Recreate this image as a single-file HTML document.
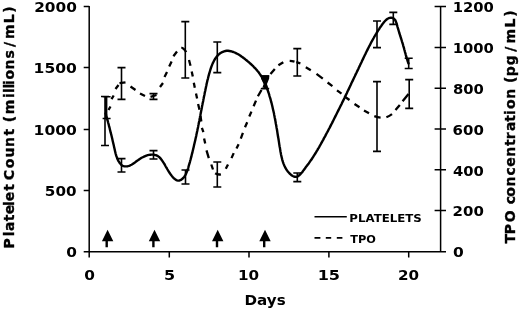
<!DOCTYPE html>
<html lang="en"><head><meta charset="utf-8"><title>Platelet count and TPO concentration</title>
<style>
html,body{margin:0;padding:0;background:#fff}
body{width:520px;height:310px;overflow:hidden}
svg{display:block}
text.v{stroke:#000;stroke-width:.35px}
text{font-family:"DejaVu Sans","Liberation Sans",sans-serif;font-weight:bold;fill:#000}
.ax{stroke:#000;stroke-width:1.5;fill:none}
.eb{stroke:#000;stroke-width:1.6;fill:none}
.s1{stroke:#000;stroke-width:2.4;fill:none;stroke-linecap:round;stroke-linejoin:round}
.s2{stroke:#000;stroke-width:2.3;fill:none}
</style></head><body>
<svg width="520" height="310" viewBox="0 0 520 310">
<rect width="520" height="310" fill="#fff"/>
<path class="ax" d="M89.2 6 V257.4 M83.7 251.7 H446 M83.7 6.6 H89.2 M83.7 67.6 H89.2 M83.7 129.4 H89.2 M83.7 190.4 H89.2 M169.3 251.7 V257.4 M249.0 251.7 V257.4 M328.9 251.7 V257.4 M408.7 251.7 V257.4 M440.6 6 V252.4 M434.6 6.6 H446 M434.6 47.4 H446 M434.6 88.2 H446 M434.6 129.0 H446 M434.6 169.8 H446 M434.6 210.6 H446"/>
<path class="eb" d="M105.0 96.5V145.5M101.0 96.5h8M101.0 145.5h8M106.6 96.7V118.5M102.6 96.7h8M102.6 118.5h8M121.5 158.6V172.0M117.5 158.6h8M117.5 172.0h8M121.5 67.6V99.4M117.5 67.6h8M117.5 99.4h8M153.5 150.6V159.0M149.5 150.6h8M149.5 159.0h8M153.5 93.6V99.4M149.5 93.6h8M149.5 99.4h8M185.5 170.0V184.0M181.5 170.0h8M181.5 184.0h8M185.3 21.6V78.0M181.3 21.6h8M181.3 78.0h8M217.3 42.0V72.6M213.3 42.0h8M213.3 72.6h8M217.3 162.0V187.0M213.3 162.0h8M213.3 187.0h8M265.2 76.0V88.5M261.2 76.0h8M261.2 88.5h8M264.8 76.3V88.8M260.8 76.3h8M260.8 88.8h8M297.3 173.0V181.6M293.3 173.0h8M293.3 181.6h8M297.3 48.6V76.0M293.3 48.6h8M293.3 76.0h8M377.0 21.0V47.6M373.0 21.0h8M373.0 47.6h8M377.0 81.6V151.4M373.0 81.6h8M373.0 151.4h8M393.3 12.4V24.4M389.3 12.4h8M389.3 24.4h8M408.7 58.2V68.5M404.7 58.2h8M404.7 68.5h8M409.2 79.6V108.4M405.2 79.6h8M405.2 108.4h8"/>
<path class="s2" d="M108.5 110L110.5 106.5M111.5 99.2L113.7 95.5M115.5 89L118.5 85M119.5 83.2L125.5 82.3M130.5 86.5L135.5 90M140 93.5L145 96M150.5 96.8L156.5 95M160 87L163 83M164.5 77.1L167 72.1M169.2 66.5L171.6 61.5M173.4 56.2L177 51.5M181.3 47.9Q183.5 47.6 186.2 52.2M189 60L190.5 65.7M191.7 71.4L192.8 76.4M193.8 82.8L194.8 87.8M196 93.5L197.1 98.5M198.1 104.1L199.5 109.8M200.5 116L201.3 121.5M201.9 127.9L203.4 132.2M204.1 138.6L205.2 143.6M206.5 150.3L208.8 158.1M211.3 164.5L213 169.5M215.2 173.3Q217.6 175.0 220.9 174.3M225.8 168.8L228 164.5M231.5 158.1L233.7 153.1M236.5 148.5L238.6 144.3M240.8 138.6L242.9 132.9M245 127.2L247.2 122.2M249.3 116.5L251.4 111.6M253.6 106.3L256 100.6M257.9 96.3L261.5 90M270.5 73.9L274.8 68.9M278.4 65.3L283.3 62.2M289.7 60.8Q292 60.9 294.5 61.6M296.3 62.1L300.4 63.3M305.8 67.3L310.8 70.3M316.5 73.9L322.8 78.7M327.6 82.5L332.4 86.1M337 90.3L341.5 93.7M344.5 96.5L349.5 100M354.5 104L359.5 107.3M364 110.5L369 113.3M374.3 116.2Q377.5 117.4 380.6 117.6M386.4 117.2Q389.5 116 392 114.1M395.5 109.9L399.8 104.9M402.6 101.3L408.5 94"/>
<path class="s1" d="M105.6 113.4 L106.0 114.7 L106.3 116.1 L106.7 117.4 L107.1 118.7 L107.4 120.0 L107.8 121.2 L108.1 122.5 L108.5 123.8 L108.8 125.1 L109.1 126.4 L109.5 127.6 L109.8 128.9 L110.1 130.2 L110.4 131.4 L110.7 132.7 L111.1 134.0 L111.4 135.3 L111.7 136.5 L112.0 137.8 L112.3 139.1 L112.6 140.4 L112.9 141.7 L113.2 143.0 L113.5 144.3 L113.8 145.6 L114.1 146.9 L114.4 148.2 L114.7 149.6 L115.0 150.9 L115.3 152.2 L115.6 153.5 L116.0 154.9 L116.4 156.2 L116.9 157.4 L117.3 158.7 L117.9 159.9 L118.5 161.1 L119.2 162.2 L119.9 163.3 L120.8 164.3 L121.7 165.2 L122.8 165.8 L123.9 166.2 L125.2 166.4 L126.5 166.4 L127.8 166.2 L129.1 165.8 L130.3 165.3 L131.5 164.7 L132.7 164.0 L133.8 163.2 L135.0 162.4 L136.1 161.5 L137.2 160.7 L138.3 160.0 L139.4 159.2 L140.5 158.5 L141.6 157.8 L142.8 157.2 L144.0 156.6 L145.2 156.1 L146.4 155.6 L147.7 155.2 L149.0 154.9 L150.4 154.7 L151.7 154.6 L153.0 154.6 L154.3 154.8 L155.6 155.1 L156.8 155.5 L157.9 156.1 L159.0 156.9 L160.0 157.9 L160.9 158.9 L161.7 160.0 L162.5 161.1 L163.3 162.3 L164.0 163.4 L164.7 164.5 L165.3 165.7 L165.9 166.8 L166.6 167.9 L167.2 169.0 L167.9 170.2 L168.6 171.3 L169.3 172.4 L170.0 173.6 L170.9 174.7 L171.8 175.9 L172.7 177.0 L173.7 178.1 L174.8 179.0 L175.9 179.8 L177.0 180.3 L178.1 180.6 L179.2 180.6 L180.3 180.2 L181.4 179.6 L182.4 178.8 L183.3 177.9 L184.1 176.9 L184.8 175.9 L185.5 174.8 L186.1 173.6 L186.6 172.4 L187.1 171.2 L187.5 169.9 L188.0 168.6 L188.4 167.3 L188.7 166.0 L189.1 164.7 L189.5 163.4 L189.9 162.1 L190.2 160.8 L190.6 159.5 L190.9 158.2 L191.3 156.9 L191.6 155.5 L191.9 154.2 L192.3 152.9 L192.6 151.6 L192.9 150.3 L193.2 149.0 L193.5 147.7 L193.8 146.4 L194.1 145.1 L194.4 143.8 L194.7 142.5 L195.0 141.2 L195.3 139.9 L195.6 138.6 L195.9 137.3 L196.2 136.0 L196.4 134.7 L196.7 133.4 L197.0 132.1 L197.3 130.8 L197.5 129.5 L197.8 128.2 L198.1 126.9 L198.3 125.6 L198.6 124.3 L198.8 123.0 L199.1 121.7 L199.4 120.4 L199.6 119.1 L199.9 117.8 L200.1 116.5 L200.4 115.2 L200.6 113.9 L200.9 112.6 L201.1 111.3 L201.4 110.0 L201.6 108.7 L201.9 107.4 L202.1 106.1 L202.4 104.8 L202.6 103.5 L202.9 102.2 L203.2 100.9 L203.4 99.6 L203.7 98.3 L203.9 97.0 L204.2 95.7 L204.5 94.4 L204.7 93.1 L205.0 91.8 L205.3 90.5 L205.5 89.2 L205.8 87.9 L206.1 86.6 L206.4 85.3 L206.6 84.0 L206.9 82.7 L207.2 81.4 L207.5 80.1 L207.9 78.8 L208.2 77.5 L208.5 76.2 L208.9 74.9 L209.2 73.6 L209.6 72.3 L210.0 71.0 L210.4 69.7 L210.8 68.4 L211.2 67.2 L211.7 65.9 L212.2 64.6 L212.7 63.4 L213.3 62.2 L213.9 61.0 L214.5 59.9 L215.2 58.7 L215.9 57.7 L216.7 56.6 L217.6 55.6 L218.5 54.7 L219.5 53.8 L220.6 53.0 L221.7 52.4 L222.9 51.8 L224.1 51.3 L225.4 51.0 L226.7 50.8 L228.0 50.8 L229.4 51.0 L230.8 51.2 L232.1 51.6 L233.4 52.0 L234.7 52.5 L235.9 53.1 L237.1 53.7 L238.2 54.3 L239.4 55.0 L240.5 55.7 L241.5 56.5 L242.6 57.2 L243.6 58.0 L244.7 58.8 L245.7 59.7 L246.8 60.5 L247.8 61.4 L248.8 62.2 L249.8 63.1 L250.8 64.0 L251.8 64.9 L252.8 65.8 L253.7 66.8 L254.7 67.8 L255.6 68.7 L256.5 69.7 L257.3 70.8 L258.2 71.8 L259.0 72.8 L259.7 73.9 L260.5 75.0 L261.2 76.1 L261.9 77.2 L262.6 78.4 L263.2 79.6 L263.8 80.7 L264.4 81.9 L264.9 83.1 L265.4 84.3 L266.0 85.6 L266.5 86.8 L266.9 88.0 L267.4 89.3 L267.8 90.5 L268.2 91.8 L268.7 93.1 L269.1 94.3 L269.4 95.6 L269.8 96.9 L270.2 98.1 L270.6 99.4 L270.9 100.7 L271.2 102.0 L271.6 103.2 L271.9 104.5 L272.2 105.8 L272.5 107.1 L272.8 108.4 L273.1 109.7 L273.4 111.0 L273.7 112.3 L274.0 113.6 L274.2 114.9 L274.5 116.2 L274.7 117.5 L275.0 118.8 L275.2 120.1 L275.5 121.4 L275.7 122.7 L275.9 124.0 L276.2 125.3 L276.4 126.6 L276.6 127.9 L276.9 129.2 L277.1 130.5 L277.3 131.9 L277.5 133.2 L277.7 134.5 L277.9 135.8 L278.1 137.1 L278.4 138.5 L278.6 139.8 L278.8 141.1 L279.0 142.4 L279.2 143.8 L279.4 145.1 L279.6 146.4 L279.9 147.7 L280.1 149.1 L280.3 150.4 L280.5 151.7 L280.8 153.1 L281.0 154.4 L281.3 155.7 L281.6 157.0 L281.9 158.3 L282.2 159.6 L282.6 160.9 L283.0 162.2 L283.4 163.4 L283.9 164.6 L284.4 165.8 L285.0 167.0 L285.6 168.2 L286.3 169.3 L287.0 170.4 L287.8 171.5 L288.7 172.5 L289.6 173.5 L290.6 174.4 L291.6 175.3 L292.7 176.0 L293.8 176.5 L295.0 176.8 L296.1 176.9 L297.1 176.6 L298.2 176.1 L299.2 175.3 L300.2 174.4 L301.2 173.3 L302.2 172.2 L303.1 170.9 L304.0 169.7 L304.9 168.5 L305.7 167.3 L306.5 166.3 L307.3 165.2 L308.1 164.2 L308.9 163.2 L309.6 162.1 L310.3 161.1 L311.1 160.1 L311.8 159.0 L312.5 157.9 L313.2 156.8 L313.9 155.7 L314.6 154.6 L315.3 153.5 L316.0 152.4 L316.7 151.2 L317.4 150.1 L318.0 148.9 L318.7 147.8 L319.4 146.6 L320.0 145.5 L320.7 144.3 L321.3 143.1 L322.0 142.0 L322.6 140.8 L323.3 139.6 L323.9 138.4 L324.5 137.3 L325.2 136.1 L325.8 134.9 L326.4 133.7 L327.1 132.5 L327.7 131.4 L328.3 130.2 L328.9 129.0 L329.6 127.8 L330.2 126.6 L330.8 125.4 L331.4 124.2 L332.0 123.1 L332.6 121.9 L333.2 120.7 L333.8 119.5 L334.4 118.3 L335.0 117.1 L335.6 115.9 L336.2 114.7 L336.8 113.5 L337.4 112.3 L338.0 111.1 L338.6 109.9 L339.2 108.7 L339.8 107.5 L340.4 106.3 L341.0 105.1 L341.6 104.0 L342.1 102.8 L342.7 101.6 L343.3 100.4 L343.9 99.2 L344.5 98.0 L345.0 96.8 L345.6 95.6 L346.2 94.4 L346.8 93.2 L347.3 92.0 L347.9 90.8 L348.5 89.6 L349.1 88.4 L349.6 87.2 L350.2 85.9 L350.8 84.7 L351.3 83.5 L351.9 82.3 L352.5 81.1 L353.1 79.9 L353.6 78.7 L354.2 77.5 L354.8 76.3 L355.3 75.1 L355.9 73.9 L356.5 72.8 L357.0 71.6 L357.6 70.4 L358.2 69.2 L358.7 68.0 L359.3 66.8 L359.9 65.6 L360.4 64.4 L361.0 63.2 L361.6 62.0 L362.1 60.8 L362.7 59.6 L363.3 58.4 L363.8 57.2 L364.4 56.0 L365.0 54.8 L365.6 53.6 L366.1 52.5 L366.7 51.3 L367.3 50.1 L367.9 48.9 L368.5 47.7 L369.1 46.5 L369.7 45.4 L370.3 44.2 L370.9 43.0 L371.5 41.8 L372.2 40.7 L372.8 39.5 L373.5 38.3 L374.1 37.2 L374.8 36.0 L375.5 34.8 L376.2 33.7 L376.9 32.5 L377.6 31.4 L378.3 30.2 L379.1 29.1 L379.8 27.9 L380.6 26.8 L381.4 25.7 L382.2 24.5 L383.0 23.4 L383.9 22.3 L384.8 21.3 L385.7 20.3 L386.6 19.5 L387.6 18.8 L388.7 18.2 L389.8 17.9 L391.0 17.7 L392.2 17.9 L393.3 18.3 L394.2 19.0 L395.1 19.9 L395.7 21.1 L396.2 22.4 L396.7 23.7 L397.1 25.2 L397.4 26.5 L397.8 27.9 L398.2 29.2 L398.6 30.5 L399.0 31.8 L399.3 33.0 L399.7 34.2 L400.1 35.5 L400.5 36.7 L400.9 38.0 L401.3 39.2 L401.7 40.5 L402.1 41.8 L402.5 43.0 L402.9 44.3 L403.2 45.6 L403.6 46.9 L404.0 48.2 L404.3 49.5 L404.7 50.8 L405.0 52.1 L405.4 53.3 L405.7 54.6 L406.1 55.9 L406.4 57.2 L406.8 58.4 L407.2 59.7 L407.6 61.0 L408.0 62.2 L408.5 63.5"/>
<path d="M261 75.2H269.2V78.4L267 84 267.8 87.8H262.4L263.6 84 261 78.4Z" fill="#000"/>
<path d="M107.6 229.8L113.3 241.2H107.9V247.3H105.5V241.2H101.9Z" fill="#000"/>
<path d="M154.5 229.8L160.2 241.2H154.6V247.3H152.2V241.2H148.8Z" fill="#000"/>
<path d="M217.7 229.8L223.4 241.2H218.2V247.3H215.8V241.2H212.0Z" fill="#000"/>
<path d="M265.0 229.8L270.7 241.2H265.4V247.3H263.0V241.2H259.3Z" fill="#000"/>
<path d="M314.5 216.8H346.8" stroke="#000" stroke-width="1.6"/>
<path d="M314.5 237.8H320.4M325.8 237.8H331.2M336.8 237.8H342.4" stroke="#000" stroke-width="1.8"/>
<text transform="translate(34.15 12.40) scale(1.1183 1)" font-size="13.73">2000</text>
<text transform="translate(33.55 73.40) scale(1.1342 1)" font-size="13.73">1500</text>
<text transform="translate(33.55 135.20) scale(1.1342 1)" font-size="13.73">1000</text>
<text transform="translate(44.86 196.20) scale(1.1061 1)" font-size="13.73">500</text>
<text transform="translate(66.23 257.20) scale(1.1165 1)" font-size="13.73">0</text>
<text transform="translate(452.65 12.40) scale(1.0782 1)" font-size="13.73">1200</text>
<text transform="translate(452.65 53.20) scale(1.0782 1)" font-size="13.73">1000</text>
<text transform="translate(452.96 94.00) scale(1.0777 1)" font-size="13.73">800</text>
<text transform="translate(452.58 134.80) scale(1.0913 1)" font-size="13.73">600</text>
<text transform="translate(452.96 175.60) scale(1.0777 1)" font-size="13.73">400</text>
<text transform="translate(452.58 216.40) scale(1.0913 1)" font-size="13.73">200</text>
<text transform="translate(452.93 257.20) scale(1.1286 1)" font-size="13.73">0</text>
<text transform="translate(84.13 280.00) scale(1.1165 1)" font-size="13.73">0</text>
<text transform="translate(164.00 280.00) scale(1.1650 1)" font-size="13.73">5</text>
<text transform="translate(237.90 280.00) scale(1.1056 1)" font-size="13.73">10</text>
<text transform="translate(317.69 280.00) scale(1.1711 1)" font-size="13.73">15</text>
<text transform="translate(398.06 280.00) scale(1.1022 1)" font-size="13.73">20</text>
<text transform="translate(244.49 304.50) scale(1.1359 1)" font-size="13.33">Days</text>
<text transform="translate(349.32 222.30) scale(1.0411 1)" font-size="11.33">PLATELETS</text>
<text transform="translate(350.30 242.80) scale(0.9987 1)" font-size="11.33">TPO</text>
<text transform="translate(13.50 0) rotate(-90) scale(1 1.020)" font-size="14.00" x="-248.6 -236.2 -231.1 -221.3 -214.3 -206.1 -201.2 -190.7 -180.2 -180.3 -168.3 -157.6 -147.1 -135.6 -125.1 -122.3 -114.3 -97.9 -93.0 -88.4 -85.1 -79.4 -69.6 -58.5 -47.1 -39.1 -23.2 -12.8" y="0" class="v">Platelet Count (millions/mL)</text>
<text transform="translate(515.20 0) rotate(-90) scale(1 1.020)" font-size="14.00" x="-243.5 -234.3 -222.2 -206.8 -204.2 -196.7 -186.5 -175.6 -166.8 -156.7 -146.0 -139.2 -130.9 -121.7 -114.9 -109.0 -98.7 -85.5 -82.9 -76.2 -65.2 -51.8 -43.4 -27.4 -16.8" y="0" class="v">TPO concentration (pg/mL)</text>
</svg></body></html>
